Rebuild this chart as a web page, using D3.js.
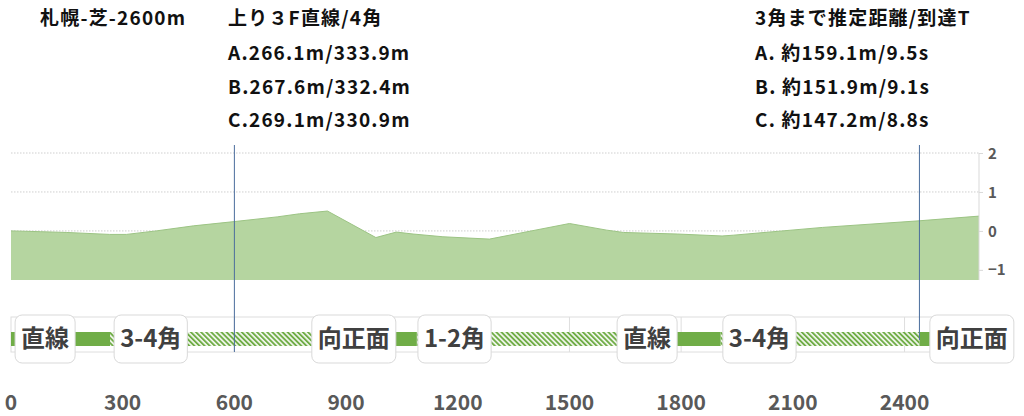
<!DOCTYPE html>
<html><head><meta charset="utf-8">
<script src="https://cdn.jsdelivr.net/npm/d3@7"></script>
<style>body{margin:0;background:#fff;} svg{display:block;}</style>
</head><body>
<svg id="c" width="1024" height="416"></svg>
<script>
// ---- data ----
const elevDist  = [0, 80, 150, 265, 310, 390, 490, 600, 715, 775, 850, 980, 1035, 1080, 1160, 1285, 1500, 1600, 1645, 1790, 1910, 1940, 2180, 2440, 2600];
const elevValue = [0, -0.02, -0.04, -0.09, -0.09, 0, 0.13, 0.24, 0.36, 0.44, 0.51, -0.17, -0.03, -0.08, -0.15, -0.21, 0.19, 0.02, -0.04, -0.08, -0.13, -0.11, 0.09, 0.26, 0.38];
const yTicks = [2, 1, 0, -1];
const xTicks = [0, 300, 600, 900, 1200, 1500, 1800, 2100, 2400];
const segStart = [0, 266, 812, 1090, 1640, 1906, 2440];
const segEnd   = [266, 812, 1090, 1640, 1906, 2440, 2600];
const segType  = ["solid", "hatch", "solid", "hatch", "solid", "hatch", "solid"];
const segLabel = ["直線", "3-4角", "向正面", "1-2角", "直線", "3-4角", "向正面"];
const labelAt  = [11, 277, 808, 1093, 1628, 1912, 2468];
const markerDist = [600, 2440];
const titleText = "札幌-芝-2600m";
const leftLines  = ["上り３F直線/4角", "A.266.1m/333.9m", "B.267.6m/332.4m", "C.269.1m/330.9m"];
const rightLines = ["3角まで推定距離/到達T", "A. 約159.1m/9.5s", "B. 約151.9m/9.1s", "C. 約147.2m/8.8s"];

// ---- drawing ----
const svg = d3.select("#c");
const FONT = "'Noto Sans CJK JP','Noto Sans',sans-serif";
const x = d3.scaleLinear().domain([0, 2600]).range([11, 979]);
const y = d3.scaleLinear().domain([-1.26, 2]).range([280, 153]);

const defs = svg.append("defs");
const pat = defs.append("pattern").attr("id", "hatch").attr("patternUnits", "userSpaceOnUse")
  .attr("width", 3.6).attr("height", 3.6).attr("patternTransform", "rotate(-45)");
pat.append("rect").attr("width", 3.6).attr("height", 3.6).attr("fill", "#f4f8f0");
pat.append("rect").attr("width", 1.9).attr("height", 3.6).attr("fill", "#70ad47");

// gridlines
svg.append("g").selectAll("line").data(yTicks).join("line")
  .attr("x1", x(0)).attr("x2", x(2600)).attr("y1", d => y(d)).attr("y2", d => y(d))
  .attr("stroke", "#cfcfcf").attr("stroke-width", 1).attr("stroke-dasharray", "1.5,1.5");

// area
const pts = elevDist.map((d, i) => [d, elevValue[i]]);
svg.append("path").datum(pts)
  .attr("d", d3.area().x(d => x(d[0])).y0(y(-1.26)).y1(d => y(d[1])))
  .attr("fill", "#b5d5a0").attr("stroke", "none");
svg.append("path").datum(pts)
  .attr("d", d3.line().x(d => x(d[0])).y(d => y(d[1])))
  .attr("fill", "none").attr("stroke", "#9cc484").attr("stroke-width", 1);

// right axis
const yAxis = d3.axisRight(y).tickValues(yTicks).tickSize(4).tickPadding(5).tickFormat(d3.format("d"));
const ga = svg.append("g").attr("transform", `translate(${x(2600)},0)`).call(yAxis);
ga.select(".domain").attr("stroke", "#d9d9d9").attr("d", `M0,${y(2)}V${y(-1.26)}`);
ga.selectAll(".tick line").attr("stroke", "#d9d9d9");
ga.selectAll(".tick text").attr("font-family", FONT).attr("font-size", 15).attr("font-weight", 700)
  .attr("fill", "#595959").attr("dy", "0.34em");

// track panel
const tp = svg.append("g");
tp.append("rect").attr("x", x(0)).attr("y", 317).attr("width", x(2600) - x(0)).attr("height", 35)
  .attr("fill", "none").attr("stroke", "#dedede");
tp.selectAll("line.g").data(xTicks.slice(1)).join("line").attr("class", "g")
  .attr("x1", d => x(d)).attr("x2", d => x(d)).attr("y1", 317).attr("y2", 352)
  .attr("stroke", "#dedede");

const segs = segStart.map((s, i) => ({ s, e: segEnd[i], t: segType[i], l: segLabel[i], at: labelAt[i] }));
tp.selectAll("rect.h").data(segs.filter(d => d.t === "hatch")).join("rect").attr("class", "h")
  .attr("x", d => x(d.s)).attr("width", d => x(d.e) - x(d.s)).attr("y", 332).attr("height", 14)
  .attr("fill", "url(#hatch)");

// marker lines
svg.selectAll("line.m").data(markerDist).join("line").attr("class", "m")
  .attr("x1", d => x(d)).attr("x2", d => x(d)).attr("y1", 145).attr("y2", (d, i) => i === 0 ? 352 : 340)
  .attr("stroke", "#4a6d9c").attr("stroke-width", 1);

tp.selectAll("rect.s").data(segs.filter(d => d.t === "solid")).join("rect").attr("class", "s")
  .attr("x", d => x(d.s)).attr("width", d => x(d.e) - x(d.s)).attr("y", 332).attr("height", 14)
  .attr("fill", "#70ad47");

// label boxes
const lb = svg.selectAll("g.lb").data(segs).join("g").attr("class", "lb");
lb.each(function (d) {
  const g = d3.select(this);
  const r = g.append("rect");
  const t = g.append("text").text(d.l).attr("font-family", FONT).attr("font-size", 24)
    .attr("font-weight", 600).attr("fill", "#404040").attr("y", 347);
  const w = t.node().getComputedTextLength();
  const bx = x(d.at);
  t.attr("x", bx + 6);
  r.attr("x", bx).attr("y", 315).attr("width", w + 12).attr("height", 48).attr("rx", 7)
    .attr("fill", "#fff").attr("stroke", "#d9d9d9");
});

// x tick labels
svg.append("g").selectAll("text").data(xTicks).join("text")
  .attr("x", d => x(d)).attr("y", 410).attr("text-anchor", "middle")
  .attr("font-family", FONT).attr("font-size", 21).attr("font-weight", 700).attr("fill", "#595959")
  .text(d => d);

// header text
const hdr = (txt, xx, yy) => svg.append("text").attr("x", xx).attr("y", yy).text(txt)
  .attr("font-family", FONT).attr("font-size", 19).attr("font-weight", 700).attr("fill", "#111")
  .attr("letter-spacing", 1.2);
hdr(titleText, 40, 25);
const baseY = [25, 60, 94, 127];
leftLines.forEach((t, i) => hdr(t, 228, baseY[i]));
rightLines.forEach((t, i) => hdr(t, 755, baseY[i]));
</script>
</body></html>
